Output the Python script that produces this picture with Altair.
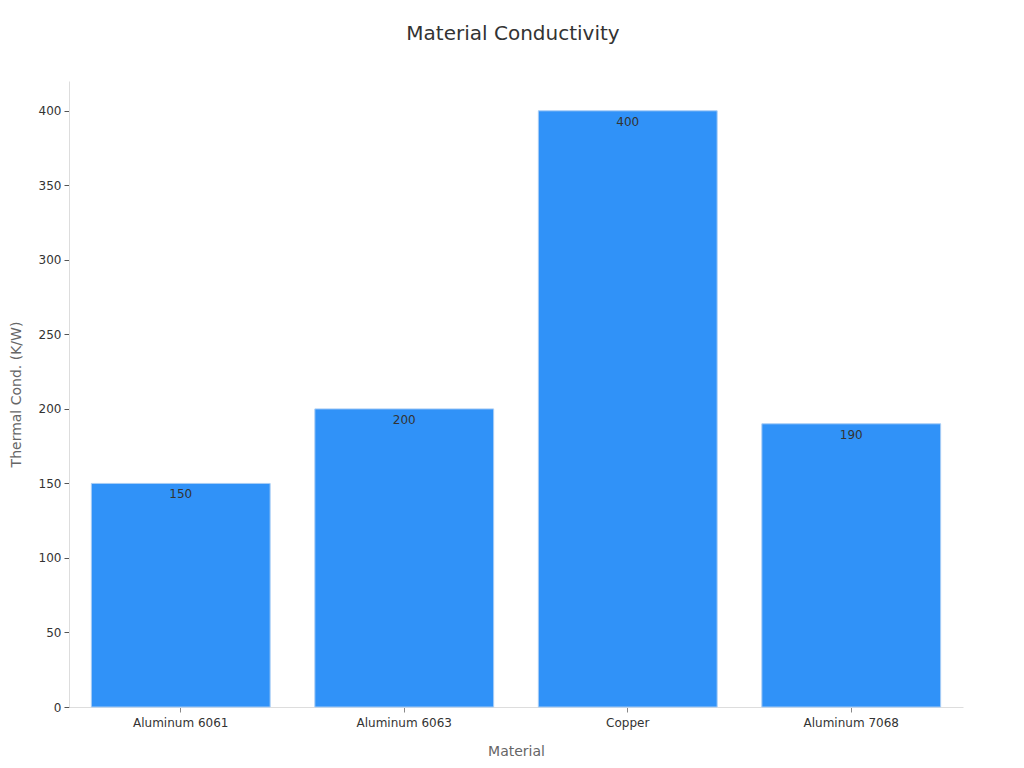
import pandas as pd
import altair as alt

# data
materials = ["Aluminum 6061", "Aluminum 6063", "Copper", "Aluminum 7068"]
conductivity = [150, 200, 400, 190]

df = pd.DataFrame({"Material": materials, "Conductivity": conductivity})

base = alt.Chart(df).encode(
    x=alt.X(
        "Material:N",
        sort=materials,
        title="Material",
        scale=alt.Scale(paddingInner=0.2, paddingOuter=0.1),
        axis=alt.Axis(labelAngle=0, labelFontSize=12, labelColor="#333333",
                      titleFontSize=14, titleColor="#666666", titleFontWeight="normal",
                      titlePadding=16, domainColor="#dddddd", tickColor="#888888",
                      labelPadding=5),
    ),
    y=alt.Y(
        "Conductivity:Q",
        title="Thermal Cond. (K/W)",
        scale=alt.Scale(domain=[0, 420], nice=False),
        axis=alt.Axis(values=[0, 50, 100, 150, 200, 250, 300, 350, 400], grid=False,
                      labelFontSize=12, labelColor="#333333", titleFontSize=14,
                      titleColor="#666666", titleFontWeight="normal", titlePadding=15,
                      domainColor="#dddddd", tickColor="#555555", labelPadding=3),
    ),
)

bars = base.mark_bar(color="#3092f8", stroke="#a8cdf5", strokeWidth=1)

labels = base.mark_text(baseline="top", dy=6, fontSize=12, color="#333333").encode(
    text="Conductivity:Q"
)

chart = (
    (bars + labels)
    .properties(
        width=894,
        height=626,
        title=alt.TitleParams("Material Conductivity", fontSize=20, fontWeight="normal",
                              color="#333333", offset=37, dx=-3),
        autosize=alt.AutoSizeParams(type="none"),
        padding={"left": 61, "top": 73, "right": 53, "bottom": 53},
    )
    .configure(font="DejaVu Sans")
    .configure_view(stroke=None)
)

chart.save("out.html", embed_options={"renderer": "svg", "actions": False})
